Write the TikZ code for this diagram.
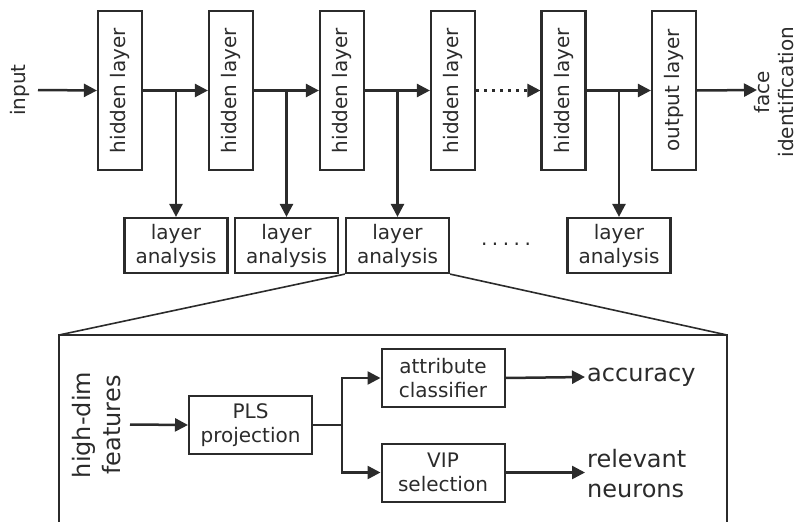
\documentclass[tikz,border=0pt]{standalone}
\usepackage{fontspec}
\setmainfont{DejaVu Sans}
\usetikzlibrary{arrows.meta}
\definecolor{ink}{HTML}{2B2B2B}
\begin{document}
\begin{tikzpicture}[x=1pt,y=-1pt,
  every node/.style={text=ink},
  f20/.style={font=\fontsize{20}{24}\selectfont},
  f24/.style={font=\fontsize{24}{30}\selectfont},
  hbox/.style={draw=ink,line width=2.2pt,minimum width=44pt,minimum height=159pt,inner sep=0pt,f20},
  labox/.style={draw=ink,line width=2.2pt,minimum width=103pt,minimum height=55pt,inner sep=0pt,align=center,f20},
  ibox/.style={draw=ink,line width=2pt,minimum width=123pt,minimum height=58pt,inner sep=0pt,align=center,f20},
  tip/.style={-{Triangle[length=13pt,width=13pt]}},
  arr/.style={draw=ink,line width=2.5pt,tip},
  thin/.style={draw=ink,line width=1.6pt}]
\useasboundingbox (0,0) rectangle (801,522);
\clip (0,0) rectangle (801,522);
% top row
\node[f20] (in) at (20,90) {\rotatebox{90}{input}};
\coordinate (inend) at (38,90);
\node[hbox] (h1) at (120,90.5) {\rotatebox{90}{hidden layer}};
\node[hbox] (h2) at (231,90.5) {\rotatebox{90}{hidden layer}};
\node[hbox] (h3) at (342,90.5) {\rotatebox{90}{hidden layer}};
\node[hbox] (h4) at (453,90.5) {\rotatebox{90}{hidden layer}};
\node[hbox] (h5) at (563.5,90.5) {\rotatebox{90}{hidden layer}};
\node[hbox] (out) at (674,90.5) {\rotatebox{90}{output layer}};
\node[f20,align=center] (face) at (776.5,92) {\rotatebox{90}{\begin{tabular}{@{}c@{}}face\\identification\end{tabular}}};
\coordinate (faceend) at (757,90);
% layer analysis
\node[labox] (la1) at (176,245.5) {layer\\analysis};
\node[labox] (la2) at (286.5,245.5) {layer\\analysis};
\node[labox] (la3) at (397.5,245.5) {layer\\analysis};
\node[labox] (la4) at (619,245.5) {layer\\analysis};
\node[f20] (dots) at (506,244) {.\hspace{4.5pt}.\hspace{4.5pt}.\hspace{4.5pt}.\hspace{4.5pt}.};
% arrows top
\draw[arr] (inend) -- (h1.west);
\draw[arr] (h1.east) -- (h2.west);
\draw[arr] (h2.east) -- (h3.west);
\draw[arr] (h3.east) -- (h4.west);
\draw[draw=ink,line width=2.5pt,dash pattern=on 2.5pt off 5.5pt,tip] (h4.east) -- (h5.west);
\draw[arr] (h5.east) -- (out.west);
\draw[arr] (out.east) -- (faceend);
\draw[arr] (la1.north |- h1.east) -- (la1.north);
\draw[arr] (la2.north |- h2.east) -- (la2.north);
\draw[arr] (la3.north |- h3.east) -- (la3.north);
\draw[arr] (la4.north |- h5.east) -- (la4.north);
% zoom box
\coordinate (bl) at (59,335);
\coordinate (br) at (727,335);
\draw[thin] (la3.south west) -- (bl);
\draw[thin] (la3.south east) -- (br);
\draw[draw=ink,line width=2.4pt] (59,560) -- (bl) -- (br) -- (727,560);
% inner
\node[f24] (hd) at (99,425) {\rotatebox{90}{\begin{tabular}{@{}c@{}}high-dim\\features\end{tabular}}};
\coordinate (hdend) at (130,424.5);
\node[ibox] (pls) at (250.5,425) {PLS\\projection};
\node[ibox] (attr) at (443,378) {attribute\\classifier};
\node[ibox] (vip) at (443,472.5) {VIP\\selection};
\node[f24,anchor=west,inner sep=2pt] (acc) at (585,377) {accuracy};
\node[f24,anchor=west,inner sep=2pt,align=left] (rel) at (585,474) {relevant\\neurons};
\draw[arr] (hdend) -- (pls.west);
\draw[arr] (pls.east) -- ++(29,0) |- (attr.west);
\draw[arr] (pls.east) -- ++(29,0) |- (vip.west);
\draw[arr] (attr.east) -- (acc.west);
\draw[arr] (vip.east) -- (rel.west |- vip.east);
\end{tikzpicture}
\end{document}
